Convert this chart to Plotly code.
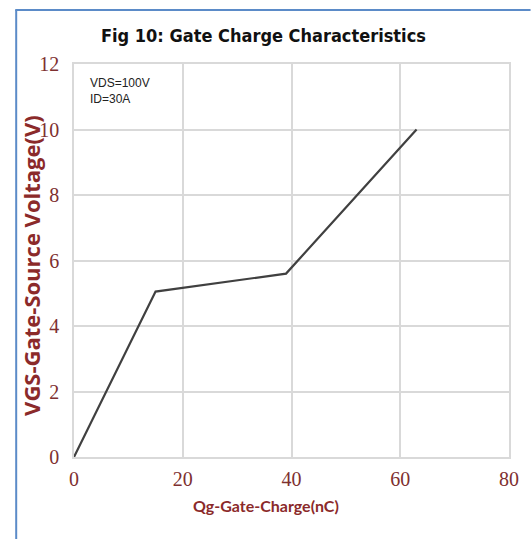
import plotly.graph_objects as go

# Data
qg_nc = [0, 15, 39, 63]
vgs_v = [0, 5.05, 5.6, 10]
x_ticks = [0, 20, 40, 60, 80]
y_ticks = [0, 2, 4, 6, 8, 10, 12]
title_text = "Fig 10: Gate Charge Characteristics"
x_title = "Qg-Gate-Charge(nC)"
y_title = "VGS-Gate-Source Voltage(V)"
note_lines = ["VDS=100V", "ID=30A"]

W, H = 531, 539
L, R, T, B = 74, 13, 64, 82
pw, ph = W - L - R, H - T - B

def px(xp):
    return (xp - L) / pw

def py(yp):
    return (H - B - yp) / ph

maroon = "#8b2a2a"
tick_col = "#7e3030"
grid = "#d9d9d9"

fig = go.Figure()
fig.add_trace(go.Scatter(x=qg_nc, y=vgs_v, mode="lines",
                         line=dict(color="#404040", width=2.2),
                         hoverinfo="skip", showlegend=False))

fig.update_layout(
    width=W, height=H,
    margin=dict(l=L, r=R, t=T, b=B),
    paper_bgcolor="white", plot_bgcolor="white",
    showlegend=False,
    xaxis=dict(range=[0, 80], tickvals=x_ticks, showgrid=True, gridcolor=grid,
               gridwidth=1.5, zeroline=False, showline=True, linecolor=grid,
               linewidth=1.5, mirror=True, ticks="", ticklen=0, ticklabelstandoff=3,
               tickfont=dict(family="Liberation Serif", size=20, color=tick_col)),
    yaxis=dict(range=[0, 12], tickvals=y_ticks, showgrid=True, gridcolor=grid,
               gridwidth=1.5, zeroline=False, showline=True, linecolor=grid,
               linewidth=1.5, mirror=True, ticks="", ticklen=0, ticklabelstandoff=9,
               tickfont=dict(family="Liberation Serif", size=20, color=tick_col)),
)

annotations = [
    dict(text="<b>" + title_text + "</b>", x=px(267), y=py(35), xref="paper", yref="paper",
         showarrow=False, xanchor="center", yanchor="middle",
         font=dict(family="Liberation Sans Narrow, DejaVu Sans Condensed, Roboto", size=18, color="#111111")),
    dict(text="<b>" + x_title + "</b>", x=px(270), y=py(505), xref="paper", yref="paper",
         showarrow=False, xanchor="center", yanchor="middle",
         font=dict(family="Lato", size=16, color=maroon)),
    dict(text="<b>" + y_title + "</b>", x=px(30), y=py(265), xref="paper", yref="paper",
         showarrow=False, xanchor="center", yanchor="middle", textangle=-90,
         font=dict(family="Open Sans", size=22, color=maroon)),
    dict(text=note_lines[0], x=px(88), y=py(83), xref="paper", yref="paper",
         showarrow=False, xanchor="left", yanchor="middle",
         font=dict(family="Liberation Sans", size=12, color="#222222")),
    dict(text=note_lines[1], x=px(88), y=py(99), xref="paper", yref="paper",
         showarrow=False, xanchor="left", yanchor="middle",
         font=dict(family="Liberation Sans", size=12, color="#222222")),
]
fig.update_layout(annotations=annotations)

# Outer blue frame (left and top edges visible)
fig.add_shape(type="line", xref="paper", yref="paper",
              x0=px(15), x1=px(15), y0=py(10), y1=py(545),
              line=dict(color="#5b8bc8", width=2))
fig.add_shape(type="line", xref="paper", yref="paper",
              x0=px(14), x1=px(540), y0=py(10), y1=py(10),
              line=dict(color="#5b8bc8", width=2))

fig.write_html("out.html", config={"displayModeBar": False},
               post_script="document.body.style.margin='0';")
